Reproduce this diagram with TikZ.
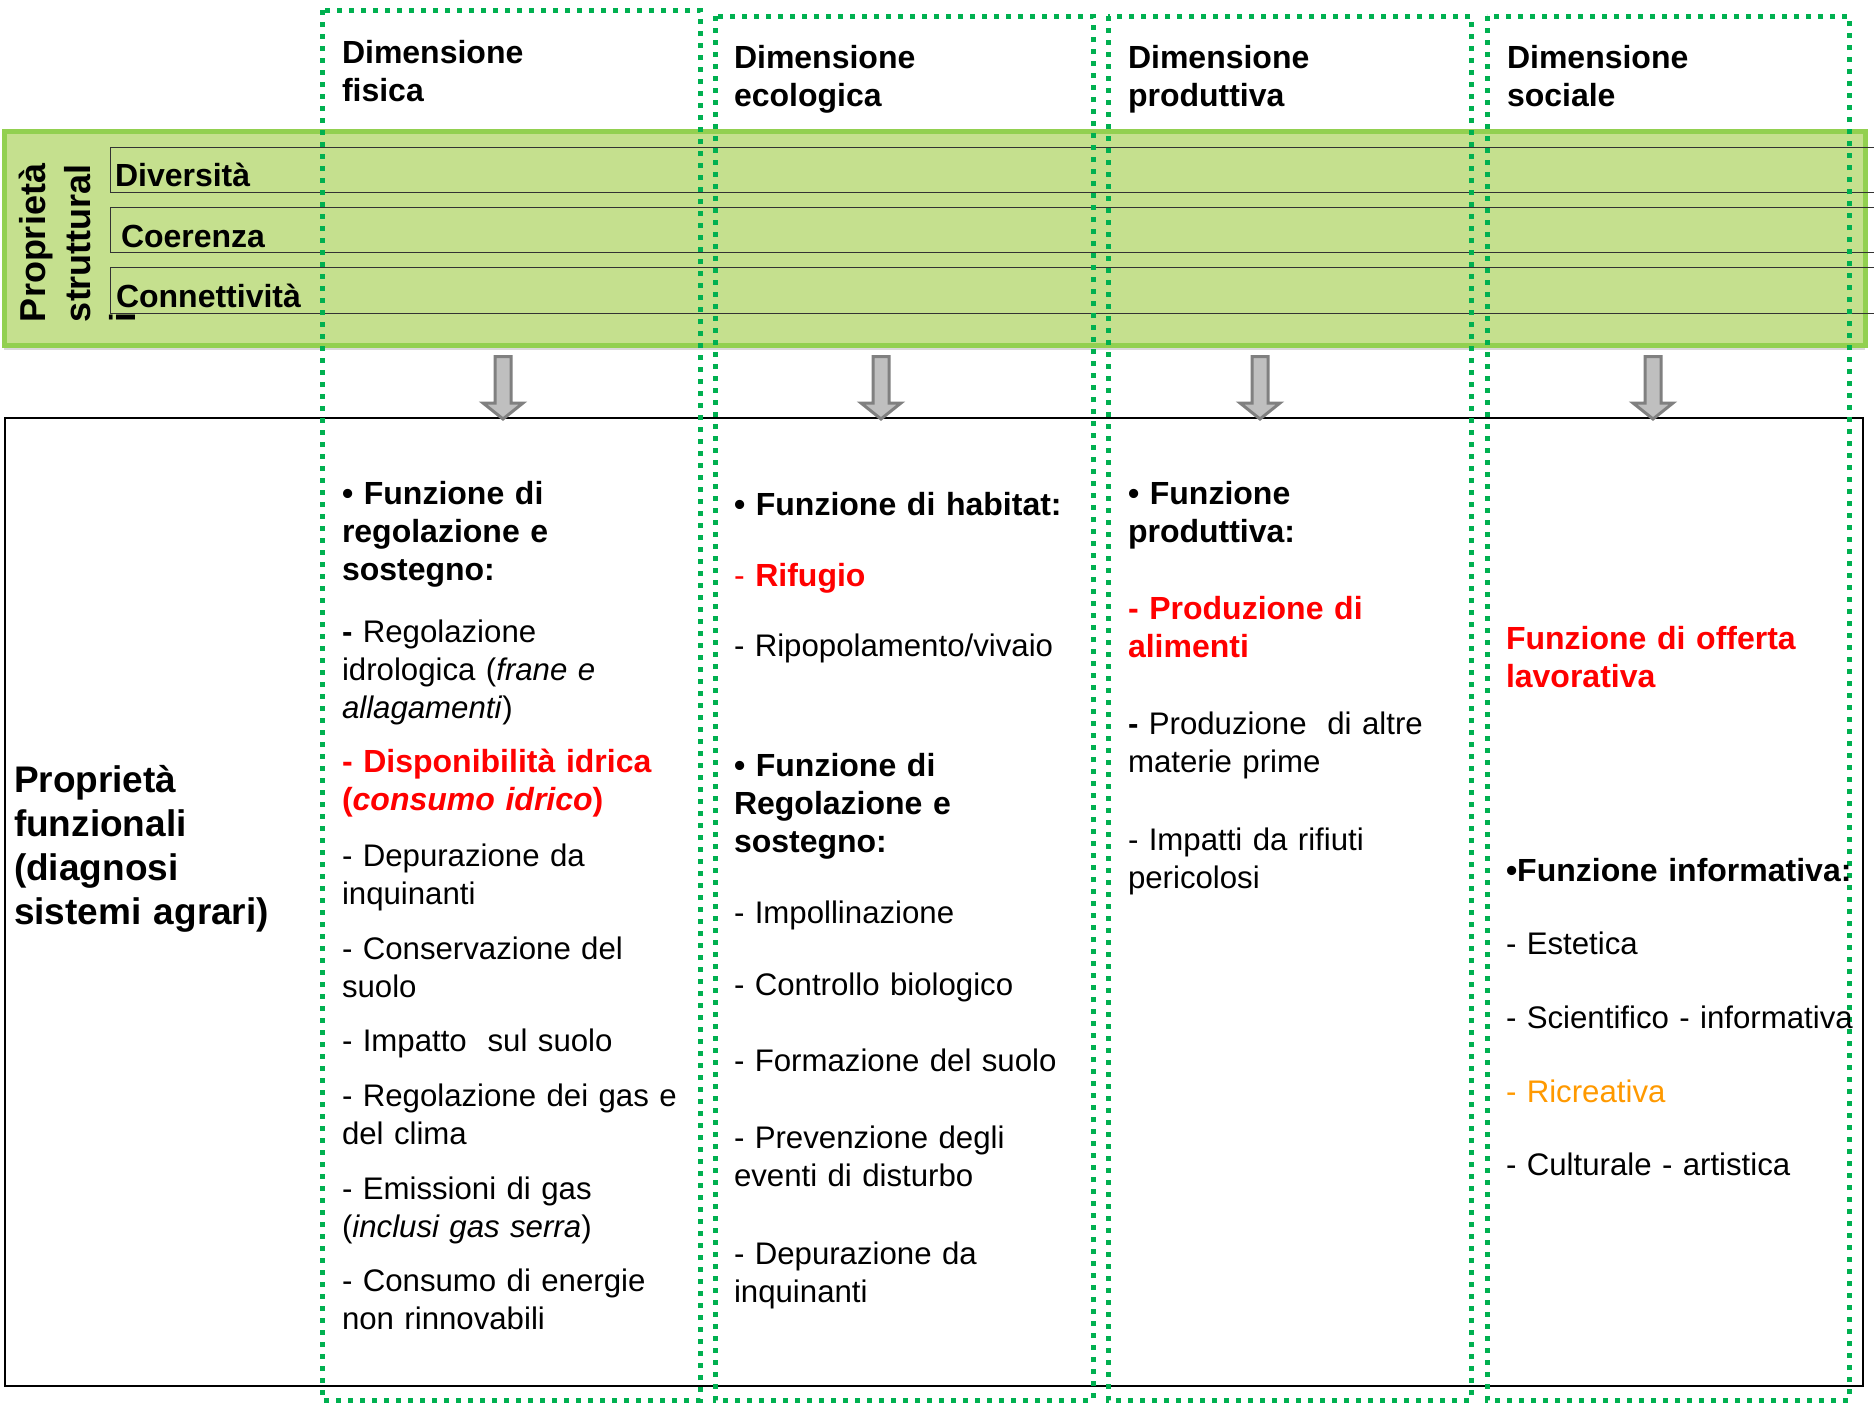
\documentclass[tikz,border=0pt]{standalone}
\usepackage{fontspec}
\setmainfont{Liberation Sans}
\usepackage{tikz}
\usetikzlibrary{shapes}
\usetikzlibrary{arrows,positioning,shadows}
\definecolor{bandgreen}{RGB}{197,224,142}
\definecolor{bandedge}{RGB}{146,208,80}
\definecolor{dimgreen}{RGB}{0,176,80}
\definecolor{ricorange}{RGB}{255,153,0}
\newcommand{\bodyfont}{\fontsize{15.6}{19}\selectfont}
\newcommand{\boldfont}{\fontsize{16}{19}\selectfont\bfseries}
\tikzstyle{txt}=[anchor=base west, inner sep=0pt, outer sep=0pt, text width=200pt, align=left, font=\bodyfont]
\tikzstyle{btxt}=[txt, font=\boldfont]
\tikzstyle{rtxt}=[btxt, text=red]
\tikzstyle{dimbox}=[draw=dimgreen, line width=2.5pt, dash pattern=on 2.5pt off 3.5pt]
\tikzstyle{band}=[draw=bandedge, fill=bandgreen, line width=2.5pt, drop shadow={shadow xshift=0pt, shadow yshift=-2.5pt, opacity=0.3}]
\tikzstyle{rowline}=[draw=black!80, line width=0.5pt]
\tikzstyle{downarrow}=[draw=black!50, fill=black!25, line width=1.5pt]

\begin{document}
\begin{tikzpicture}
[x=0.5pt, y=-0.5pt]
\useasboundingbox (0,0) rectangle (1874,1404);
\draw[band] (4,131) rectangle (1865,345);
\draw[rowline] (110,147) rectangle (1900,192);
\draw[rowline] (110,207) rectangle (1900,252);
\draw[rowline] (110,267) rectangle (1900,313);
\draw[line width=1.2pt] (5,418) rectangle (1863,1386);
\foreach \x in {503,881,1260,1653}
  \draw[downarrow] (\x-8,356.5) -- (\x+8,356.5) -- (\x+8,403) -- (\x+20,403)
     -- (\x,419) -- (\x-20,403) -- (\x-8,403) -- cycle;
\draw[dimbox] (322,10) rectangle (700,1400);
\draw[dimbox] (715,16) rectangle (1093,1400);
\draw[dimbox] (1108,16) rectangle (1471,1400);
\draw[dimbox] (1487,16) rectangle (1849,1400);

\node[btxt] (hfis) at (342,63) {Dimensione\\fisica};
\node[btxt] (heco) at (734,68) {Dimensione\\ecologica};
\node[btxt] (hpro) at (1128,68) {Dimensione\\produttiva};
\node[btxt] (hsoc) at (1507,68) {Dimensione\\sociale};

\node[btxt, font=\fontsize{18}{22.5}\selectfont\bfseries, rotate=90] (pstr) at (45,322) {Proprietà\\struttural\\i};
\node[btxt] (div) at (115,186) {Diversità};
\node[btxt] (coe) at (121,247) {Coerenza};
\node[btxt] (con) at (116,307) {Connettività};

\node[btxt, font=\fontsize{18.5}{22}\selectfont\bfseries] (pfun) at (14,792) {Proprietà\\funzionali\\(diagnosi\\sistemi agrari)};

\node[btxt] (f1) at (342,504) {• Funzione di\\regolazione e\\sostegno:};
\node[txt] (f2) at (342,642) {\textbf{-} Regolazione\\idrologica (\textit{frane e}\\\textit{allagamenti})};
\node[rtxt] (f3) at (342,772) {- Disponibilità idrica\\(\textit{consumo idrico})};
\node[txt] (f4) at (342,866) {- Depurazione da\\inquinanti};
\node[txt] (f5) at (342,959) {- Conservazione del\\suolo};
\node[txt] (f6) at (342,1051) {- Impatto\ \ sul suolo};
\node[txt] (f7) at (342,1106) {- Regolazione dei gas e\\del clima};
\node[txt] (f8) at (342,1199) {- Emissioni di gas\\(\textit{inclusi gas serra})};
\node[txt] (f9) at (342,1291) {- Consumo di energie\\non rinnovabili};

\node[btxt] (e1) at (734,515) {• Funzione di habitat:};
\node[rtxt] (e2) at (734,586) {{\mdseries -} Rifugio};
\node[txt] (e3) at (734,656) {- Ripopolamento/vivaio};
\node[btxt] (e4) at (734,776) {• Funzione di\\Regolazione e\\sostegno:};
\node[txt] (e5) at (734,923) {- Impollinazione};
\node[txt] (e6) at (734,995) {- Controllo biologico};
\node[txt] (e7) at (734,1071) {- Formazione del suolo};
\node[txt] (e8) at (734,1148) {- Prevenzione degli\\eventi di disturbo};
\node[txt] (e9) at (734,1264) {- Depurazione da\\inquinanti};

\node[btxt] (p1) at (1128,504) {• Funzione\\produttiva:};
\node[rtxt] (p2) at (1128,619) {- Produzione di\\alimenti};
\node[txt] (p3) at (1128,734) {\textbf{-} Produzione\ \ di altre\\materie prime};
\node[txt] (p4) at (1128,850) {- Impatti da rifiuti\\pericolosi};

\node[rtxt] (s1) at (1506,649) {Funzione di offerta\\lavorativa};
\node[btxt] (s2) at (1506,881) {•Funzione informativa:};
\node[txt] (s3) at (1506,954) {- Estetica};
\node[txt] (s4) at (1506,1028) {- Scientifico - informativa};
\node[txt, text=ricorange] (s5) at (1506,1102) {- Ricreativa};
\node[txt] (s6) at (1506,1175) {- Culturale - artistica};
\end{tikzpicture}
\end{document}
